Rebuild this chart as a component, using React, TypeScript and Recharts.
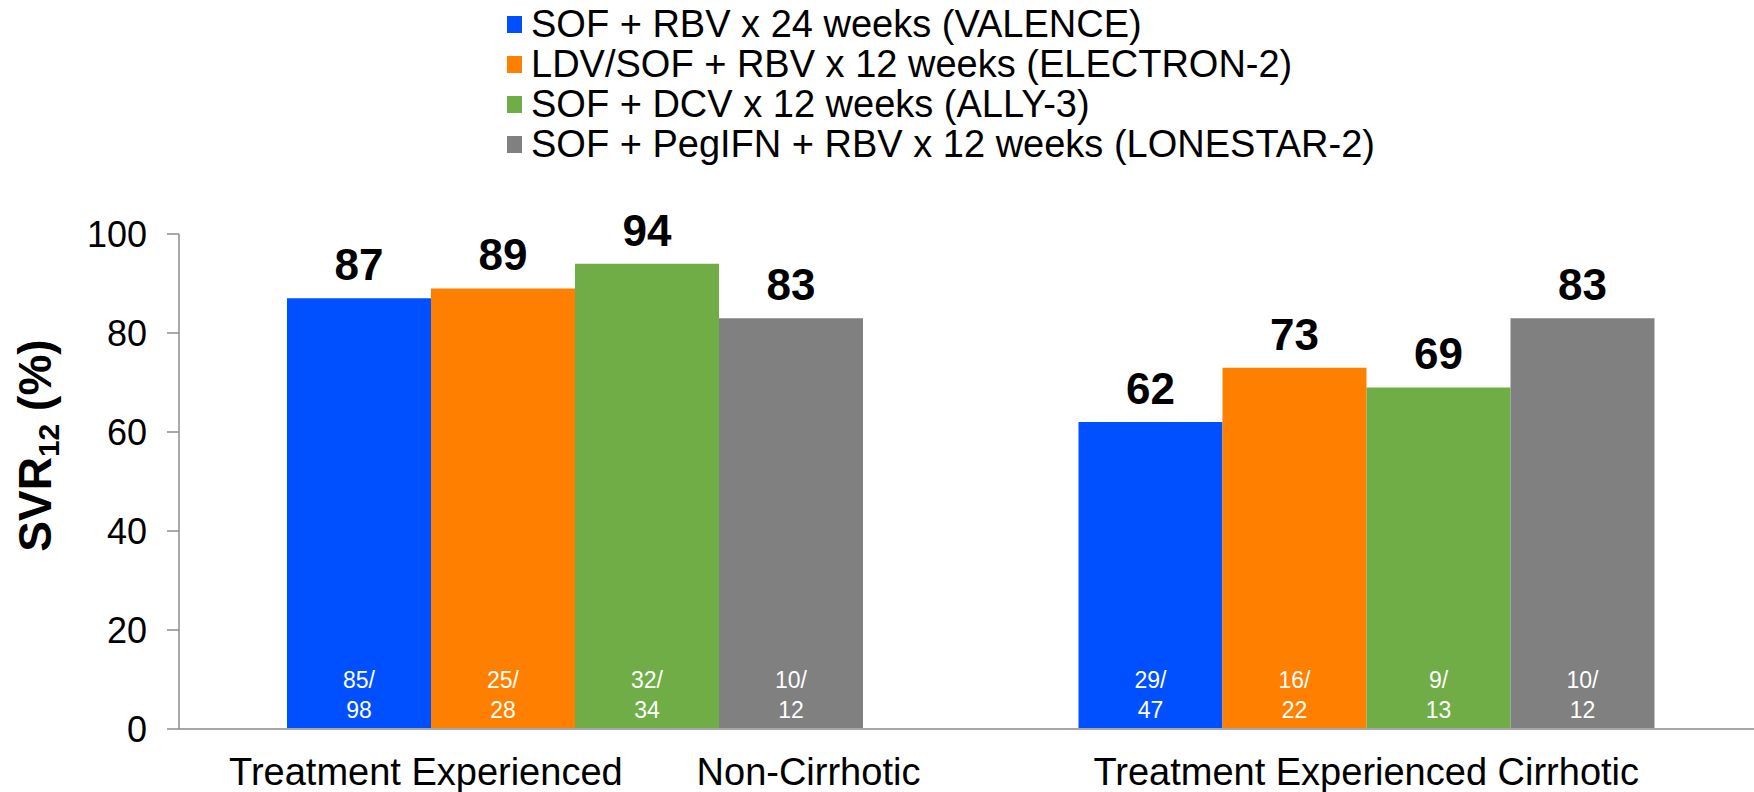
import React from 'react';
import { BarChart, Bar, XAxis, YAxis, Legend, LabelList } from 'recharts';

const FONT = "'Liberation Sans', Arial, sans-serif";

// categories (wide gap in the first label is part of the original slide)
const CATEGORIES = ['Treatment Experienced       Non-Cirrhotic', 'Treatment Experienced Cirrhotic'];

const SERIES_NAMES = [
  'SOF + RBV x 24 weeks (VALENCE)',
  'LDV/SOF + RBV x 12 weeks (ELECTRON-2)',
  'SOF + DCV x 12 weeks (ALLY-3)',
  'SOF + PegIFN + RBV x 12 weeks (LONESTAR-2)',
];

// SVR12 (%)
const VALENCE = [87, 62];
const ELECTRON = [89, 73];
const ALLY = [94, 69];
const LONESTAR = [83, 83];

// patients n/N
const VALENCE_N = ['85/98', '29/47'];
const ELECTRON_N = ['25/28', '16/22'];
const ALLY_N = ['32/34', '9/13'];
const LONESTAR_N = ['10/12', '10/12'];

const Y_TICKS = [0, 20, 40, 60, 80, 100];

const COLORS = ['#0050FF', '#FF8000', '#70AD47', '#808080'];

const data = CATEGORIES.map((category, i) => ({
  category,
  s0: VALENCE[i],
  s1: ELECTRON[i],
  s2: ALLY[i],
  s3: LONESTAR[i],
  n0: VALENCE_N[i],
  n1: ELECTRON_N[i],
  n2: ALLY_N[i],
  n3: LONESTAR_N[i],
}));

const renderCount = (props: any) => {
  const { x, y, width, height, value } = props;
  const [top, bottom] = String(value).split('/');
  const cx = Number(x) + Number(width) / 2;
  const base = Number(y) + Number(height);
  return (
    <text textAnchor="middle" fill="#fff" fontSize={23} fontFamily={FONT}>
      <tspan x={cx} y={base - 41}>{top}/</tspan>
      <tspan x={cx} y={base - 11}>{bottom}</tspan>
    </text>
  );
};

const CategoryTick = ({ x, y, payload }: any) => (
  <text
    x={x}
    y={y}
    dy={56}
    textAnchor="middle"
    fill="#000"
    fontSize={38}
    fontFamily={FONT}
    style={{ whiteSpace: 'pre' }}
  >
    {payload.value}
  </text>
);

const YTitle = ({ viewBox }: any) => {
  const x = viewBox.x + 51;
  const y = viewBox.y + viewBox.height / 2 - 36;
  return (
    <text
      x={x}
      y={y}
      transform={`rotate(-90, ${x}, ${y})`}
      textAnchor="middle"
      fill="#000"
      fontSize={46}
      fontWeight="bold"
      fontFamily={FONT}
    >
      <tspan>SVR</tspan>
      <tspan fontSize={30} dy={8}>12</tspan>
      <tspan dy={-8}> (%)</tspan>
    </text>
  );
};

const LegendBox = () => (
  <div style={{ fontFamily: FONT }}>
    {SERIES_NAMES.map((name, i) => (
      <div key={name} style={{ display: 'flex', alignItems: 'center', height: 40 }}>
        <div style={{ width: 15, height: 17, background: COLORS[i], marginRight: 9 }} />
        <span style={{ fontSize: 38, lineHeight: '40px', color: '#000', whiteSpace: 'nowrap' }}>{name}</span>
      </div>
    ))}
  </div>
);

export default function App() {
  return (
    <div>
      <style>{'body{margin:0;overflow:hidden}'}</style>
      <BarChart
        width={1754}
        height={792}
        data={data}
        margin={{ top: 234, right: 0, bottom: 0, left: 0 }}
        barGap={0}
        barSize={144}
      >
        <XAxis
          dataKey="category"
          height={63}
          interval={0}
          tickLine={false}
          tickSize={0}
          tickMargin={0}
          padding={{ left: 0, right: -8 }}
          axisLine={{ stroke: '#A6A6A6', strokeWidth: 2 }}
          tick={<CategoryTick />}
        />
        <YAxis
          domain={[0, 100]}
          ticks={Y_TICKS}
          width={179}
          tickSize={12}
          tickMargin={20}
          axisLine={{ stroke: '#8C8C8C', strokeWidth: 1.5 }}
          tickLine={{ stroke: '#8C8C8C', strokeWidth: 1.5 }}
          tick={{ fill: '#000', fontSize: 36, fontFamily: FONT }}
          label={{ content: <YTitle /> }}
        />
        <Legend
          layout="vertical"
          align="center"
          verticalAlign="middle"
          wrapperStyle={{ top: 4, left: 507, width: 'auto' }}
          content={<LegendBox />}
        />
        {['s0', 's1', 's2', 's3'].map((key, i) => (
          <Bar key={key} dataKey={key} name={SERIES_NAMES[i]} fill={COLORS[i]} isAnimationActive={false}>
            <LabelList
              dataKey={key}
              position="top"
              offset={18}
              fill="#000"
              fontSize={44}
              fontWeight="bold"
              fontFamily={FONT}
            />
            <LabelList dataKey={`n${i}`} content={renderCount} />
          </Bar>
        ))}
      </BarChart>
    </div>
  );
}
